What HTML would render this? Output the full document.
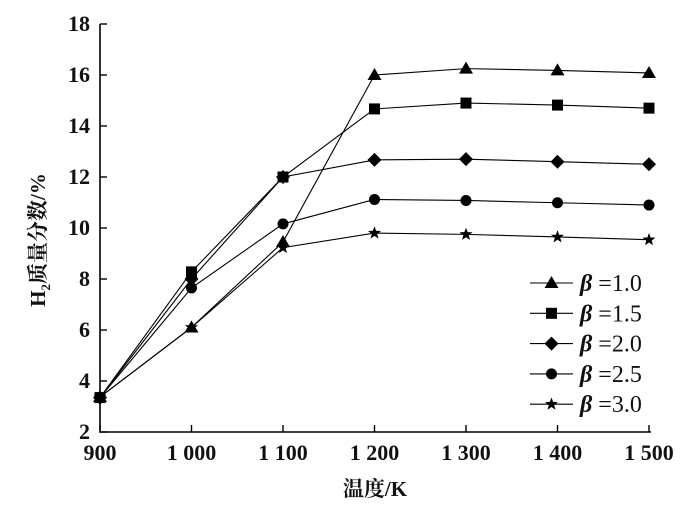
<!DOCTYPE html>
<html><head><meta charset="utf-8"><style>
html,body{margin:0;padding:0;background:#fff;}
svg text{font-family:"Liberation Serif","Noto Serif CJK SC",serif;fill:#111;}
</style></head><body>
<svg id="chart" width="700" height="507" viewBox="0 0 700 507" xmlns="http://www.w3.org/2000/svg"></svg>
<script>
const categories=[900,1000,1100,1200,1300,1400,1500];
const xTicks=["900","1 000","1 100","1 200","1 300","1 400","1 500"];
const yTicks=[2,4,6,8,10,12,14,16,18];
const seriesNames=["β =1.0","β =1.5","β =2.0","β =2.5","β =3.0"];
const s10=[3.37,6.1,9.45,16.0,16.25,16.18,16.08];
const s15=[3.35,8.28,12.0,14.67,14.9,14.82,14.7];
const s20=[3.35,8.0,12.0,12.67,12.7,12.6,12.5];
const s25=[3.35,7.65,10.16,11.12,11.08,10.99,10.9];
const s30=[3.37,6.1,9.23,9.8,9.75,9.65,9.54];
const series=[s10,s15,s20,s25,s30];
const markers=["triangle","square","diamond","circle","star"];

const NS="http://www.w3.org/2000/svg";
const svg=document.getElementById('chart');
const X0=100,X1=649,Y0=432,Y1=24;
const FONT='"Liberation Serif","Noto Serif CJK SC",serif';
const xs=v=>X0+(v-900)/600*(X1-X0);
const ys=v=>Y0-(v-2)/16*(Y0-Y1);
function el(t,a,p){const e=document.createElementNS(NS,t);for(const k in a)e.setAttribute(k,a[k]);(p||svg).appendChild(e);return e;}
function marker(type,x,y,g){
  let e;
  if(type==="triangle")e=el('polygon',{points:`${x},${y-7} ${x-7},${y+5} ${x+7},${y+5}`,fill:'#000'},g);
  else if(type==="square")e=el('rect',{x:x-5.5,y:y-5.5,width:11,height:11,fill:'#000'},g);
  else if(type==="diamond")e=el('polygon',{points:`${x},${y-7} ${x+7},${y} ${x},${y+7} ${x-7},${y}`,fill:'#000'},g);
  else if(type==="circle")e=el('circle',{cx:x,cy:y,r:5.5,fill:'#000'},g);
  else{let p=[];for(let i=0;i<10;i++){const r=i%2?2.8:6.8,a=-Math.PI/2+i*Math.PI/5;p.push((x+r*Math.cos(a)).toFixed(1)+","+(y+r*Math.sin(a)).toFixed(1));}e=el('polygon',{points:p.join(' '),fill:'#000'},g);}
  return e;
}
const ax=el('path',{d:`M${X0},${Y1} V${Y0} H${X1+2}`,stroke:'#000','stroke-width':1.6,fill:'none'});


yTicks.forEach(v=>{
  const y=ys(v);
  el('line',{x1:X0,x2:X0+7,y1:y,y2:y,stroke:'#000','stroke-width':1.4});
  const t=el('text',{x:90,y:y+7,'text-anchor':'end','font-size':22,'font-weight':'bold','font-family':FONT});
  t.textContent=v;
  
  
});
categories.forEach((c,i)=>{
  const x=xs(c);
  el('line',{x1:x,x2:x,y1:Y0,y2:Y0-7,stroke:'#000','stroke-width':1.4});
  const t=el('text',{x:x,y:460,'text-anchor':'middle','font-size':22,'font-weight':'bold','font-family':FONT});
  t.textContent=xTicks[i];
  
  
});
const xt=el('text',{x:375,y:496,'text-anchor':'middle','font-size':21,'font-weight':'bold','font-family':FONT});
xt.textContent="温度/K";


const yt=el('text',{transform:'translate(45,240) rotate(-90)','text-anchor':'middle','font-size':21,'font-weight':'bold','font-family':FONT});
yt.innerHTML='H<tspan font-size="13" dy="5">2</tspan><tspan dy="-5">质量分数/%</tspan>';


series.forEach((s,si)=>{
  const g=el('g',{});
  
  
  el('polyline',{points:s.map((v,i)=>xs(categories[i])+","+ys(v)).join(' '),fill:'none',stroke:'#000','stroke-width':1.1},g);
  s.forEach((v,i)=>{const m=marker(markers[si],xs(categories[i]),ys(v),g);
    
    });
});
seriesNames.forEach((n,i)=>{
  const y=283+i*30.3;
  const g=el('g',{});
  
  
  el('line',{x1:530,x2:573,y1:y,y2:y,stroke:'#000','stroke-width':1.1},g);
  marker(markers[i],551.5,y,g);
  const t=el('text',{x:580,y:y+8,'font-size':24,'font-family':FONT},g);
  t.innerHTML='<tspan font-weight="bold" font-style="italic">β</tspan> =' + n.split('=')[1];
});
</script>
</body></html>
